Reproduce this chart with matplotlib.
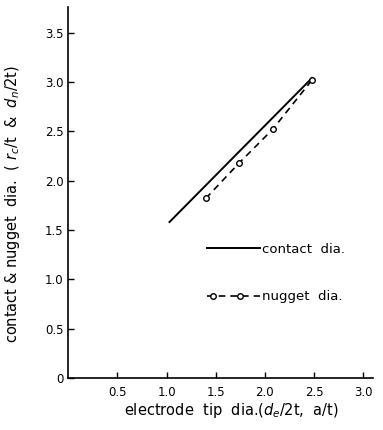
import numpy as np
import matplotlib.pyplot as plt
from matplotlib.legend_handler import HandlerLine2D
from matplotlib.lines import Line2D

contact_x = [1.03, 2.48]
contact_y = [1.58, 3.04]
nugget_x = [1.40, 1.74, 2.08, 2.48]
nugget_y = [1.82, 2.18, 2.52, 3.02]
xticks = [0.5, 1.0, 1.5, 2.0, 2.5, 3.0]
xtick_labels = ['0.5', '1.0', '1.5', '2.0', '2.5', '3.0']
yticks = [0, 0.5, 1.0, 1.5, 2.0, 2.5, 3.0, 3.5]
ytick_labels = ['0', '0.5', '1.0', '1.5', '2.0', '2.5', '3.0', '3.5']


# markers sit inside the legend line, not at its ends
class MarkerInside(HandlerLine2D):
    def create_artists(self, legend, orig_handle, xdescent, ydescent,
                       width, height, fontsize, trans):
        xdata = -xdescent + width * np.array([0.0, 0.12, 0.63, 1.0])
        ydata = np.full_like(xdata, (height - ydescent) / 2)
        line = Line2D(xdata, ydata)
        self.update_prop(line, orig_handle, legend)
        line.set_markevery([1, 2])
        line.set_transform(trans)
        return [line]


plt.rcParams['font.family'] = ['DejaVu Sans']
fig = plt.figure(figsize=(3.83, 4.30), dpi=100)
ax = fig.add_axes([0.178, 0.121, 0.796, 0.863])

ax.plot(contact_x, contact_y, color='black', lw=1.4, label='contact  dia.')
nug, = ax.plot(nugget_x, nugget_y, color='black', lw=1.2, ls=(0, (4, 3)),
               marker='o', ms=4, mfc='white', mec='black', mew=1.0,
               label='nugget  dia.')

ax.set_xlim(0, 3.1)
ax.set_ylim(0, 3.76)
ax.set_xticks(xticks)
ax.set_xticklabels(xtick_labels)
ax.set_yticks(yticks)
ax.set_yticklabels(ytick_labels)
ax.tick_params(direction='in', length=4, width=1, labelsize=8.5, colors='black')
ax.tick_params(axis='x', pad=6)
for s in ['top', 'right']:
    ax.spines[s].set_visible(False)
for s in ['left', 'bottom']:
    ax.spines[s].set_linewidth(1.2)

ax.set_xlabel('electrode  tip  dia.($d_e$/2t,  a/t)', fontsize=10.5)
ax.xaxis.set_label_coords(0.534, -0.062)
ax.set_ylabel('contact & nugget  dia.  ( $r_c$/t  &  $d_n$/2t)', fontsize=10.5)
ax.yaxis.set_label_coords(-0.15, 0.47)

leg = ax.legend(loc='upper left', bbox_to_anchor=(0.416, 0.396), frameon=False,
                fontsize=9.5, handlelength=4.0, labelspacing=2.6, handletextpad=0.15,
                handler_map={nug: MarkerInside(numpoints=2)})

fig.savefig('out.png', dpi=100)
